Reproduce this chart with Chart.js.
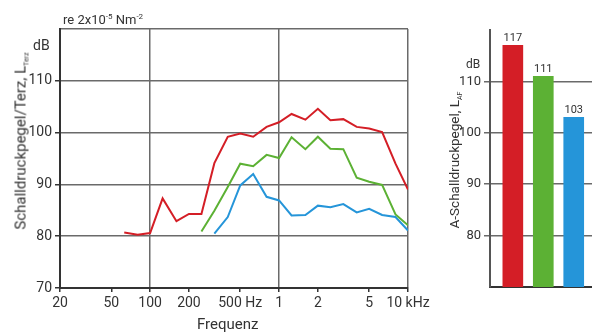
<!DOCTYPE html>
<html>
<head>
<meta charset="utf-8">
<script src="https://cdn.jsdelivr.net/npm/chart.js@4/dist/chart.umd.min.js"></script>
<style>
  body { margin: 0; background: #fff; }
  #wrap { position: relative; width: 592px; height: 334px; overflow: hidden; font-family: 'Roboto', 'Open Sans', sans-serif; color: #333; }
  canvas { position: absolute; top: 0; }
  .txt { position: absolute; white-space: nowrap; }
  .rot { transform: translate(-50%, -50%) rotate(-90deg); }
  sub { font-size: 7px; vertical-align: -3px; }
  sup { font-size: 8px; vertical-align: 5px; }
</style>
</head>
<body>
<div id="wrap">
  <canvas id="terzChart" width="440" height="334" style="left:0"></canvas>
  <canvas id="lafChart" width="152" height="334" style="left:440px"></canvas>
  <div class="txt" style="left:63px;top:12px;font-size:13px">re 2x10<sup>-5</sup> Nm<sup>-2</sup></div>
  <div class="txt" style="left:33px;top:37px;font-size:14px">dB</div>
  <div class="txt rot" style="left:21px;top:141px;font-size:15px">Schalldruckpegel/Terz, L<sub>Terz</sub></div>
  <div class="txt" style="left:197px;top:315px;font-size:15px">Frequenz</div>
  <div class="txt" style="left:466px;top:57px;font-size:12px">dB</div>
  <div class="txt rot" style="left:455px;top:160px;font-size:13.5px">A-Schalldruckpegel, L<sub>AF</sub></div>
</div>
<script>
// terz band centre frequencies (Hz)
var freqs = [63, 80, 100, 125, 160, 200, 250, 315, 400, 500, 630, 800, 1000, 1250, 1600, 2000, 2500, 3150, 4000, 5000, 6300, 8000, 10000];
var redLevels   = [80.7, 80.3, 80.6, 87.3, 82.9, 84.3, 84.3, 94.1, 99.2, 99.8, 99.2, 101.1, 102.0, 103.6, 102.5, 104.6, 102.4, 102.6, 101.1, 100.8, 100.1, 94.0, 89.0];
var greenLevels = [null, null, null, null, null, null, 80.9, 84.9, 89.5, 94.0, 93.5, 95.7, 95.1, 99.1, 96.8, 99.2, 96.9, 96.8, 91.3, 90.5, 89.9, 84.2, 82.1];
var blueLevels  = [null, null, null, null, null, null, null, 80.5, 83.7, 89.8, 92.0, 87.6, 86.9, 84.0, 84.1, 85.9, 85.6, 86.2, 84.6, 85.3, 84.1, 83.7, 81.1];

var freqTicks = [20, 50, 100, 200, 500, 1000, 2000, 5000, 10000];
var freqTickLabels = ['20', '50', '100', '200', '500 Hz', '1', '2', '5', '10 kHz'];
var freqGrid = [100, 1000, 10000];

// A-weighted totals
var lafValues = [117, 111, 103];
var lafSlots = [0, 1, 2];

var RED = '#d41e26', GREEN = '#5cb134', BLUE = '#2595d9';
var GRID = '#6a6a6a', AXIS = '#333';
var tickFont = { family: "'Roboto', sans-serif", size: 13 };

var toPoints = function(levels) {
    return freqs.map(function(f, i) { return { x: f, y: levels[i] }; });
};

var lineSet = function(levels, color) {
    return {
        data: toPoints(levels),
        borderColor: color,
        borderWidth: 2,
        pointRadius: 0,
        fill: false,
        tension: 0,
        spanGaps: false
    };
};

new Chart(document.getElementById('terzChart').getContext('2d'), {
    type: 'line',
    data: {
        datasets: [
            lineSet(redLevels, RED),
            lineSet(greenLevels, GREEN),
            lineSet(blueLevels, BLUE)
        ]
    },
    options: {
        responsive: false,
        animation: false,
        layout: { padding: { top: 29, right: 32, left: 0, bottom: 0 } },
        plugins: { legend: { display: false }, tooltip: { enabled: false } },
        scales: {
            x: {
                type: 'logarithmic',
                min: 20,
                max: 10000,
                afterBuildTicks: function(scale) {
                    scale.ticks = freqTicks.map(function(v) { return { value: v }; });
                },
                afterFit: function(scale) { scale.height = 46; },
                ticks: {
                    autoSkip: false,
                    maxRotation: 0,
                    padding: 3,
                    color: AXIS,
                    font: { family: tickFont.family, size: 14 },
                    callback: function(value) {
                        var i = freqTicks.indexOf(value);
                        return i >= 0 ? freqTickLabels[i] : '';
                    }
                },
                grid: {
                    color: function(ctx) {
                        return ctx.tick && freqGrid.indexOf(ctx.tick.value) >= 0 ? GRID : 'rgba(0,0,0,0)';
                    },
                    lineWidth: 1.5,
                    tickColor: AXIS,
                    tickLength: 4,
                    tickWidth: 1.5
                },
                border: { color: AXIS, width: 2 }
            },
            y: {
                min: 70,
                max: 120,
                afterFit: function(scale) { scale.width = 60; },
                ticks: {
                    stepSize: 10,
                    padding: 3,
                    color: AXIS,
                    font: { family: tickFont.family, size: 14 },
                    callback: function(v) { return v === 120 ? '' : v; }
                },
                grid: {
                    color: function(ctx) {
                        return ctx.tick && ctx.tick.value > 70 ? GRID : 'rgba(0,0,0,0)';
                    },
                    lineWidth: 1.5,
                    tickColor: function(ctx) {
                        return ctx.tick && ctx.tick.value < 120 ? AXIS : 'rgba(0,0,0,0)';
                    },
                    tickLength: 5,
                    tickWidth: 1.5
                },
                border: { color: AXIS, width: 2 }
            }
        }
    }
});

var barLabels = {
    id: 'barLabels',
    afterDatasetsDraw: function(chart) {
        var ctx = chart.ctx;
        ctx.save();
        ctx.fillStyle = AXIS;
        ctx.font = "11px 'Roboto', sans-serif";
        ctx.textAlign = 'center';
        ctx.textBaseline = 'bottom';
        chart.getDatasetMeta(0).data.forEach(function(bar, i) {
            ctx.fillText(lafValues[i], bar.x, bar.y - 2);
        });
        ctx.restore();
    }
};

new Chart(document.getElementById('lafChart').getContext('2d'), {
    type: 'bar',
    data: {
        datasets: [{
            data: lafValues.map(function(v, i) { return { x: lafSlots[i], y: v }; }),
            backgroundColor: [RED, GREEN, BLUE],
            borderWidth: 0,
            barThickness: 20,
            maxBarThickness: 20
        }]
    },
    plugins: [barLabels],
    options: {
        responsive: false,
        animation: false,
        layout: { padding: { top: 30, right: 0, left: 0, bottom: 0 } },
        plugins: { legend: { display: false }, tooltip: { enabled: false } },
        scales: {
            x: {
                type: 'linear',
                offset: false,
                bounds: 'data',
                min: -0.75,
                max: 2.6,
                afterFit: function(scale) { scale.height = 47; },
                ticks: { display: false },
                grid: { display: false, offset: false },
                border: { color: AXIS, width: 2 }
            },
            y: {
                min: 70,
                max: 120,
                afterFit: function(scale) { scale.width = 50; },
                ticks: {
                    stepSize: 10,
                    padding: 3,
                    color: AXIS,
                    font: { family: tickFont.family, size: 13 },
                    callback: function(v) { return (v >= 80 && v <= 110) ? v : ''; }
                },
                grid: {
                    color: function(ctx) {
                        return ctx.tick && ctx.tick.value >= 80 && ctx.tick.value <= 110 ? GRID : 'rgba(0,0,0,0)';
                    },
                    lineWidth: 1.5,
                    tickLength: 6
                },
                border: { color: '#555', width: 2 }
            }
        }
    }
});
</script>
</body>
</html>
